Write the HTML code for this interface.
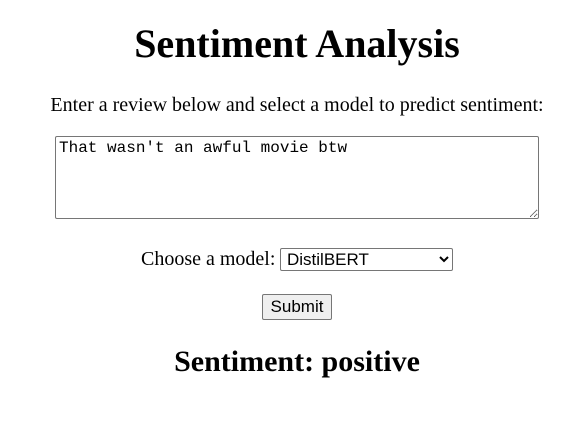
<!DOCTYPE html>
<html><head><meta charset="utf-8"><style>
body{margin:0;width:582px;height:435px;background:#fff;position:relative;font-family:"Liberation Serif",serif;color:#000;overflow:hidden}
.a{position:absolute;margin:0}
h1{font-size:40px;font-weight:bold;left:0;width:594px;text-align:center;top:21px;line-height:46px}
p.s{font-size:20px;left:0;width:594px;text-align:center;top:93px;line-height:24px}
textarea{position:absolute;left:55px;top:136px;width:484px;height:83px;box-sizing:border-box;border:1px solid #767676;border-radius:2px;font-family:"Liberation Mono","DejaVu Sans Mono",monospace;font-size:16px;padding:2px 3px;resize:both;margin:0;line-height:19px}
.lab{font-size:20px;left:141px;top:247px;line-height:24px}
select{position:absolute;left:280px;top:248px;width:173px;height:23px;box-sizing:border-box;font-family:"Liberation Sans",sans-serif;font-size:17px;border:1px solid #767676;border-radius:2px;background:#fff;margin:0;padding:0 2px}
button{position:absolute;left:262px;top:294px;width:70px;height:26px;box-sizing:border-box;font-family:"Liberation Sans",sans-serif;font-size:17px;border:1px solid #767676;border-radius:2px;background:#efefef;margin:0;padding:0}
h2{font-size:30px;font-weight:bold;left:0;width:594px;text-align:center;top:344px;line-height:36px}
</style></head><body>
<h1 class="a">Sentiment Analysis</h1>
<p class="a s">Enter a review below and select a model to predict sentiment:</p>
<textarea>That wasn't an awful movie btw</textarea>
<span class="a lab">Choose a model:</span>
<select><option>DistilBERT</option></select>
<button>Submit</button>
<h2 class="a">Sentiment: positive</h2>
</body></html>
